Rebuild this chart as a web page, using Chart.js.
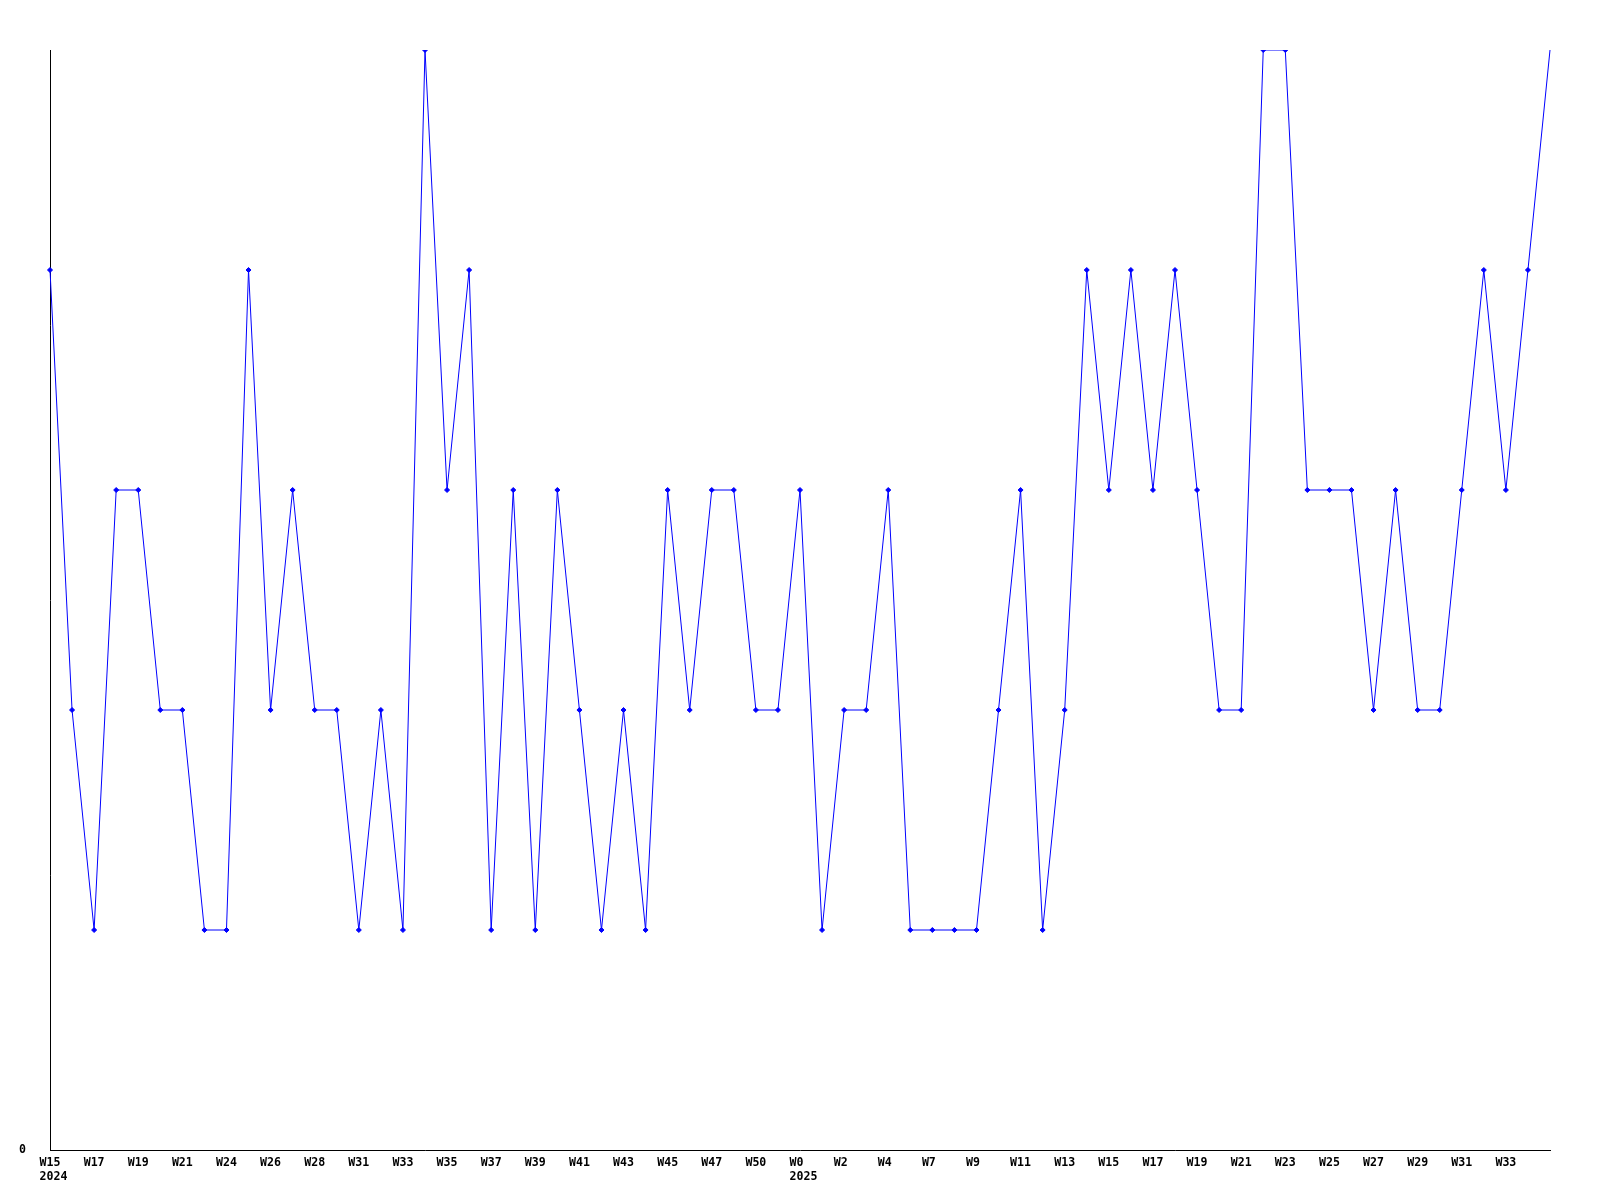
<!DOCTYPE html>
<html>
<head>
<meta charset="utf-8">
<script src="https://cdn.jsdelivr.net/npm/chart.js@4"></script>
<style>
  html, body { margin: 0; padding: 0; background: #ffffff; }
  #wrap { width: 1600px; height: 1200px; position: relative; }
</style>
</head>
<body>
<div id="wrap"><canvas id="c"></canvas></div>
<script>
// Visible week tick labels (every second point)
const weekLabels = [
  'W15', 'W17', 'W19', 'W21', 'W24', 'W26', 'W28', 'W31', 'W33', 'W35',
  'W37', 'W39', 'W41', 'W43', 'W45', 'W47', 'W50', 'W0', 'W2', 'W4',
  'W7', 'W9', 'W11', 'W13', 'W15', 'W17', 'W19', 'W21', 'W23', 'W25',
  'W27', 'W29', 'W31', 'W33'
];
// Year shown under some week labels (index in weekLabels -> year)
const yearLabels = { 0: '2024', 17: '2025' };

// Weekly values (69 points)
const values = [
  4, 2, 1, 3, 3, 2, 2, 1, 1, 4,
  2, 3, 2, 2, 1, 2, 1, 5, 3, 4,
  1, 3, 1, 3, 2, 1, 2, 1, 3, 2,
  3, 3, 2, 2, 3, 1, 2, 2, 3, 1,
  1, 1, 1, 2, 3, 1, 2, 4, 3, 4,
  3, 4, 3, 2, 2, 5, 5, 3, 3, 3,
  2, 3, 2, 2, 3, 4, 3, 4, 5
];

const categories = values.map((v, i) => 'p' + i);
const yMax = 5;

const font = { family: '"DejaVu Sans Mono", "Liberation Mono", monospace', size: 11.6, weight: 'bold' };

function xTick(val, idx) {
  if (idx % 2 !== 0) return '';
  const w = weekLabels[idx / 2];
  if (w === undefined) return '';
  // labels are left-anchored in a 3-character cell (monospace)
  const wp = w.padEnd(3, ' ');
  const y = yearLabels[idx / 2];
  if (!y) return wp;
  return [wp, ' '.repeat(Math.max(0, y.length - wp.length)) + y];
}

new Chart(document.getElementById('c'), {
  type: 'line',
  data: {
    labels: categories,
    datasets: [{
      data: values,
      borderColor: '#0000ff',
      backgroundColor: '#0000ff',
      borderWidth: 1,
      fill: false,
      tension: 0,
      pointStyle: 'rectRot',
      pointRadius: (ctx) => ctx.dataIndex === values.length - 1 ? 0 : 2.5,
      pointBorderWidth: 1,
      pointBorderColor: '#0000ff',
      pointBackgroundColor: '#0000ff'
    }]
  },
  options: {
    responsive: true,
    maintainAspectRatio: false,
    animation: false,
    layout: { padding: { top: 50, right: 50, left: 0, bottom: 0 } },
    plugins: { legend: { display: false }, tooltip: { enabled: false } },
    scales: {
      x: {
        offset: false,
        grid: { display: false, drawTicks: false },
        border: { display: true, color: '#000000', width: 1 },
        ticks: {
          autoSkip: false,
          maxRotation: 0,
          minRotation: 0,
          padding: 6,
          color: '#000000',
          font: font,
          callback: xTick
        },
        afterFit: (s) => { s.height = 50; }
      },
      y: {
        min: 0,
        max: yMax,
        grid: { display: false, drawTicks: false },
        border: { display: true, color: '#000000', width: 1 },
        ticks: {
          stepSize: 1,
          padding: 24,
          color: '#000000',
          font: font,
          callback: (v) => v === 0 ? '0' : ''
        },
        afterFit: (s) => { s.width = 50; }
      }
    }
  }
});
</script>
</body>
</html>
